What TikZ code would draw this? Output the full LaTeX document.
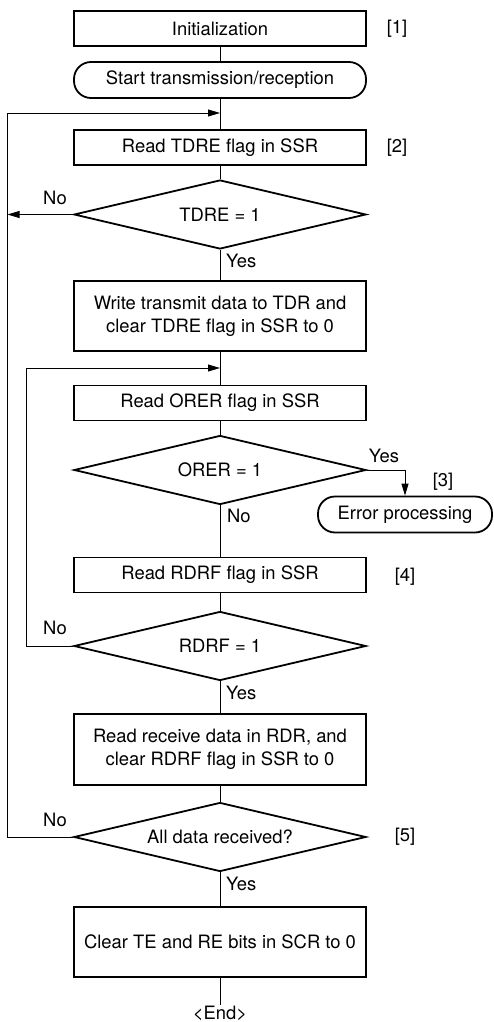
\documentclass[tikz,border=0pt]{standalone}
\usepackage{fontspec}
\setmainfont{TeX Gyre Heros}
\usetikzlibrary{shapes.geometric,arrows.meta}
\begin{document}
\begin{tikzpicture}[x=1pt,y=-1pt,
 font=\fontsize{18.4}{23}\selectfont,
 proc/.style={draw,line width=1.8pt,rectangle,minimum width=292pt,minimum height=35pt,inner sep=0pt,align=center},
 term/.style={draw,line width=1.8pt,rectangle,rounded corners=17pt,minimum height=36pt,inner sep=0pt},
 dec/.style={draw,line width=1.8pt,diamond,aspect=4.2,minimum width=292pt,minimum height=69pt,inner sep=0pt},
 conn/.style={line width=0.9pt},
 arr/.style={conn,-{Triangle[length=12pt,width=7pt]}},
 lbl/.style={inner sep=0pt}]
\useasboundingbox (0,0) rectangle (493,1022);
\node[proc] (init) at (220,28.5) {Initialization};
\node[term,minimum width=292pt] (start) at (220,80) {Start transmission/reception};
\coordinate (m1) at (220,113);
\node[proc] (rtdre) at (220,147.5) {Read TDRE flag in SSR};
\node[dec] (dtdre) at (220,214.5) {TDRE = 1};
\node[proc,minimum height=70pt] (wtdr) at (220,316) {Write transmit data to TDR and\\clear TDRE flag in SSR to 0};
\coordinate (m2) at (220,368);
\node[proc] (rorer) at (220,403) {Read ORER flag in SSR};
\node[dec] (dorer) at (220,470) {ORER = 1};
\node[term,minimum width=174pt] (err) at (405,514.5) {Error processing};
\node[proc] (rrdrf) at (220,575) {Read RDRF flag in SSR};
\node[dec] (drdrf) at (220,646) {RDRF = 1};
\node[proc,minimum height=71pt] (rrdr) at (220,749.5) {Read receive data in RDR, and\\clear RDRF flag in SSR to 0};
\node[dec] (dall) at (220,837) {All data received?};
\node[proc,minimum height=70pt] (clr) at (220,942) {Clear TE and RE bits in SCR to 0};
\node[lbl] (end) at (220,1013) {<End>};
\coordinate (l1) at (7,0);
\coordinate (l2) at (26,0);
% step labels
\node[lbl] (s1) at (397,28.5) {[1]};
\node[lbl] (s2) at (397,147.5) {[2]};
\node[lbl] (s3) at (443,482) {[3]};
\node[lbl] (s4) at (405,577) {[4]};
\node[lbl] (s5) at (405,837) {[5]};
% branch labels
\node[lbl] (no1) at (55,198) {No};
\node[lbl,anchor=west] (y1) at (226,261) {Yes};
\node[lbl] (y2) at (384,456) {Yes};
\node[lbl,anchor=west] (no2) at (227,516) {No};
\node[lbl] (no3) at (55,628) {No};
\node[lbl,anchor=west] (y3) at (226,693) {Yes};
\node[lbl] (no4) at (55,820) {No};
\node[lbl,anchor=west] (y4) at (226,884) {Yes};
% connectors
\draw[conn] (init) -- (start);
\draw[conn] (start) -- (rtdre);
\draw[conn] (rtdre) -- (dtdre);
\draw[arr,shorten >=0.5pt] (dtdre.west) -- (dtdre.west -| l1);
\draw[conn] (dtdre) -- (wtdr);
\draw[conn] (wtdr) -- (rorer);
\draw[conn] (rorer) -- (dorer);
\draw[arr] (dorer.east) -| (err.north);
\draw[conn] (dorer) -- (rrdrf);
\draw[conn] (rrdrf) -- (drdrf);
\draw[arr] (drdrf.west) -- (drdrf.west -| l2) -- (m2 -| l2) -- (m2);
\draw[conn] (drdrf) -- (rrdr);
\draw[conn] (rrdr) -- (dall);
\draw[arr] (dall.west) -- (dall.west -| l1) -- (m1 -| l1) -- (m1);
\draw[conn] (dall) -- (clr);
\draw[conn] (clr) -- (end);
\end{tikzpicture}
\end{document}
